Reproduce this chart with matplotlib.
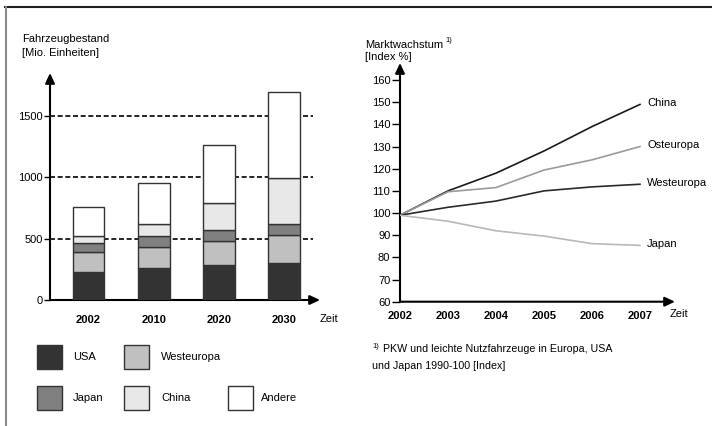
import numpy as np
import matplotlib
matplotlib.use("Agg")
import matplotlib.pyplot as plt
from matplotlib.patches import Rectangle
from matplotlib.lines import Line2D

plt.rcParams['font.family'] = ['Liberation Sans', 'DejaVu Sans']

# -----------------------------
# data
# -----------------------------
bar_years = ["2002", "2010", "2020", "2030"]
bar_series = ["USA", "Westeuropa", "Japan", "China", "Andere"]
usa = [230, 260, 283, 300]
westeuropa = [160, 175, 200, 230]
japan = [77, 90, 90, 90]
china = [55, 93, 220, 377]
andere = [236, 333, 470, 703]
bar_colors = ["#333333", "#c0c0c0", "#808080", "#e8e8e8", "#ffffff"]

line_years = [2002, 2003, 2004, 2005, 2006, 2007]
idx_china = [99, 110, 118, 128, 139, 149]
idx_osteuropa = [99, 109.6, 111.5, 119.4, 124, 130]
idx_westeuropa = [99, 102.6, 105.4, 110, 111.8, 113]
idx_japan = [99, 96.3, 92, 89.6, 86.2, 85.4]
line_names = ["China", "Osteuropa", "Westeuropa", "Japan"]
line_colors = ["#1a1a1a", "#9a9a9a", "#2a2a2a", "#b8b8b8"]

W, H = 712, 426
fs = 8


def fx(px):
    return px / W


def fy(py):
    return 1 - py / H


fig = plt.figure(figsize=(W / 100, H / 100), dpi=100)

# outer frame lines
fig.add_artist(Line2D([fx(5), fx(712)], [fy(7), fy(7)], color="#222222", lw=1.5))
fig.add_artist(Line2D([fx(6), fx(6)], [fy(7), fy(426)], color="#8a8a8a", lw=1.5))


def draw_arrows(ax):
    for s in ax.spines.values():
        s.set_visible(False)
    kw = dict(arrowstyle="-|>,head_length=0.6,head_width=0.28", color="black",
              lw=1.5, shrinkA=0, shrinkB=0, mutation_scale=10)
    ax.annotate("", xy=(0, 1), xytext=(0, 0), xycoords="axes fraction",
                textcoords="axes fraction", arrowprops=kw, annotation_clip=False)
    ax.annotate("", xy=(1, 0), xytext=(0, 0), xycoords="axes fraction",
                textcoords="axes fraction", arrowprops=kw, annotation_clip=False)


# -----------------------------
# left: stacked bars
# -----------------------------
ax1 = fig.add_axes([fx(50), fy(300), fx(320) - fx(50), fy(73) - fy(300)])
ax1.set_xlim(-0.59, 3.55)
ax1.set_ylim(0, 1852)
draw_arrows(ax1)

x = np.arange(len(bar_years))
bottom = np.zeros(len(bar_years))
for vals, col in zip([usa, westeuropa, japan, china, andere], bar_colors):
    ax1.bar(x, vals, 0.49, bottom=bottom, color=col, edgecolor="#333333",
            linewidth=1.0, zorder=3)
    bottom += np.array(vals)

ax1.hlines([500, 1000, 1500], -0.59, 3.44, colors="black", linestyles=(0, (3, 1.6)),
           lw=1.2, zorder=1)

ax1.set_yticks([0, 500, 1000, 1500])
ax1.tick_params(axis="y", length=4, width=1, pad=1, labelsize=fs)
ax1.set_xticks(x)
ax1.set_xticklabels(bar_years, fontweight="bold", fontsize=fs)
ax1.tick_params(axis="x", length=0, pad=11)
ax1.text(1.0, -0.083, "Zeit", transform=ax1.transAxes, fontsize=fs, va="center", ha="left")

fig.text(fx(22), fy(39), "Fahrzeugbestand", fontsize=fs, va="center", ha="left")
fig.text(fx(22), fy(53), "[Mio. Einheiten]", fontsize=fs, va="center", ha="left")

# legend (manual layout)
leg_pos = [(37, 357), (124, 357), (37, 398), (124, 398), (228, 398)]
leg_text_x = [73, 161, 73, 161, 261]
for name, col, (lx, ly), tx in zip(bar_series, bar_colors, leg_pos, leg_text_x):
    fig.add_artist(Rectangle((fx(lx), fy(ly + 12)), fx(25), 24 / H,
                             facecolor=col, edgecolor="#333333", lw=1.0))
    fig.text(fx(tx), fy(ly), name, fontsize=fs, va="center", ha="left")

# -----------------------------
# right: index lines
# -----------------------------
ax2 = fig.add_axes([fx(400), fy(301.7), fx(675) - fx(400), fy(63) - fy(301.7)])
ax2.set_xlim(2002, 2007.73)
ax2.set_ylim(60, 167.7)
draw_arrows(ax2)

for vals, col, name in zip([idx_china, idx_osteuropa, idx_westeuropa, idx_japan],
                           line_colors, line_names):
    ax2.plot(line_years, vals, color=col, lw=1.2, zorder=3)
    ax2.text(2007.15, vals[-1] + 0.5, name, fontsize=fs, va="center", ha="left")

ax2.set_yticks(np.arange(60, 161, 10))
ax2.tick_params(axis="y", length=6, width=1, pad=1, labelsize=fs)
ax2.set_xticks(line_years)
ax2.set_xticklabels([str(y) for y in line_years], fontweight="bold", fontsize=fs)
ax2.tick_params(axis="x", length=0, pad=7)
ax2.text(0.98, -0.05, "Zeit", transform=ax2.transAxes, fontsize=fs, va="center", ha="left")

fig.text(fx(365), fy(45), "Marktwachstum", fontsize=fs, va="center", ha="left")
fig.text(fx(445), fy(41), "1)", fontsize=5.5, va="center", ha="left")
fig.text(fx(365), fy(57), "[Index %]", fontsize=fs, va="center", ha="left")

fig.text(fx(372), fy(346), "1)", fontsize=5.5, va="center", ha="left")
fig.text(fx(383), fy(349), "PKW und leichte Nutzfahrzeuge in Europa, USA",
         fontsize=7.7, va="center", ha="left")
fig.text(fx(372), fy(366), "und Japan 1990-100 [Index]", fontsize=7.7, va="center", ha="left")

fig.savefig("out.png", dpi=100)
